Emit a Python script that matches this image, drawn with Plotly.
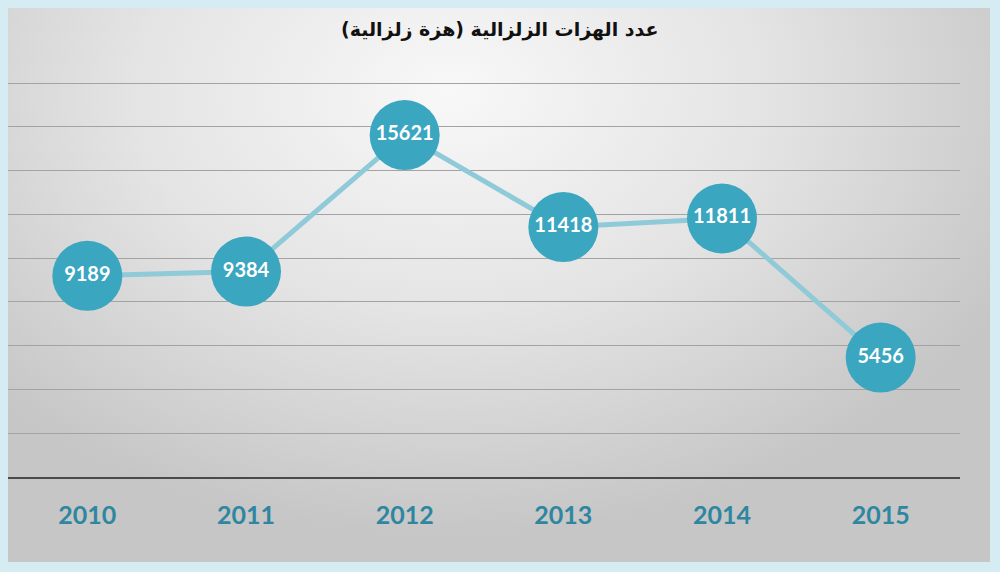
import plotly.graph_objects as go
import urllib.parse

years = ["2010", "2011", "2012", "2013", "2014", "2015"]
quakes = [9189, 9384, 15621, 11418, 11811, 5456]
title_text = "عدد الهزات الزلزالية (هزة زلزالية)"

W, H = 1000, 572
L, R, T, B = 8, 40, 81, 95  # plot area margins in px

pw = W - L - R
ph = H - T - B
ytop = 18000 * ph / 394.0  # so that gridline 18000 sits just inside plot

def px_to_paper_x(px):
    return (px - L) / pw

def px_to_paper_y(py):
    return (H - B - py) / ph

svg = (
    "<svg xmlns='http://www.w3.org/2000/svg' width='982' height='554' viewBox='0 0 982 554' preserveAspectRatio='none'>"
    "<defs><radialGradient id='g' cx='0.45' cy='0.15' r='0.8' gradientTransform='translate(0.45 0.15) scale(0.8 1) translate(-0.45 -0.15)'>"
    "<stop offset='0' stop-color='#f8f8f8'/><stop offset='0.5' stop-color='#e4e4e4'/>"
    "<stop offset='1' stop-color='#c6c6c6'/></radialGradient></defs>"
    "<rect width='982' height='554' fill='url(#g)'/></svg>"
)
svg_uri = "data:image/svg+xml;charset=utf-8," + urllib.parse.quote(svg)

fig = go.Figure()

fig.add_trace(go.Scatter(
    x=years, y=quakes,
    mode="lines+markers+text",
    line=dict(color="#8fcad8", width=5),
    marker=dict(size=70, color="#3aa6bf", line=dict(width=0)),
    text=[str(v) for v in quakes],
    textposition="middle center",
    textfont=dict(family="Lato, Open Sans, sans-serif", size=20, color="white", weight="bold"),
    cliponaxis=False,
    hoverinfo="skip",
    showlegend=False,
))

fig.update_layout(
    width=W, height=H,
    margin=dict(l=L, r=R, t=T, b=B, pad=0),
    paper_bgcolor="#d4ecf2",
    plot_bgcolor="rgba(0,0,0,0)",
    images=[dict(
        source=svg_uri, xref="paper", yref="paper",
        x=px_to_paper_x(8), y=px_to_paper_y(8),
        sizex=px_to_paper_x(990) - px_to_paper_x(8),
        sizey=px_to_paper_y(8) - px_to_paper_y(562),
        xanchor="left", yanchor="top", sizing="stretch", layer="below",
    )],
    annotations=[dict(
        text="<b>" + title_text + "</b>", xref="paper", yref="paper",
        x=px_to_paper_x(500), y=px_to_paper_y(30),
        xanchor="center", yanchor="middle", showarrow=False,
        font=dict(family="DejaVu Sans, Noto Sans, sans-serif", size=19, color="#111111"),
    )],
    xaxis=dict(
        type="category", range=[-0.5, 5.5],
        showgrid=False, zeroline=False,
        showline=True, linecolor="#4a4a4a", linewidth=1.5,
        ticks="outside", ticklen=15, tickcolor="rgba(0,0,0,0)",
        tickfont=dict(family="Lato, Open Sans, sans-serif", size=25, color="#2e86a0", weight="bold"),
    ),
    yaxis=dict(
        range=[0, ytop], dtick=2000,
        showgrid=True, gridcolor="#a3a3a3", gridwidth=1.2,
        zeroline=False, showticklabels=False, showline=False,
    ),
)

fig.write_html("out.html", config={"displayModeBar": False},
               post_script="document.body.style.margin='0';")
